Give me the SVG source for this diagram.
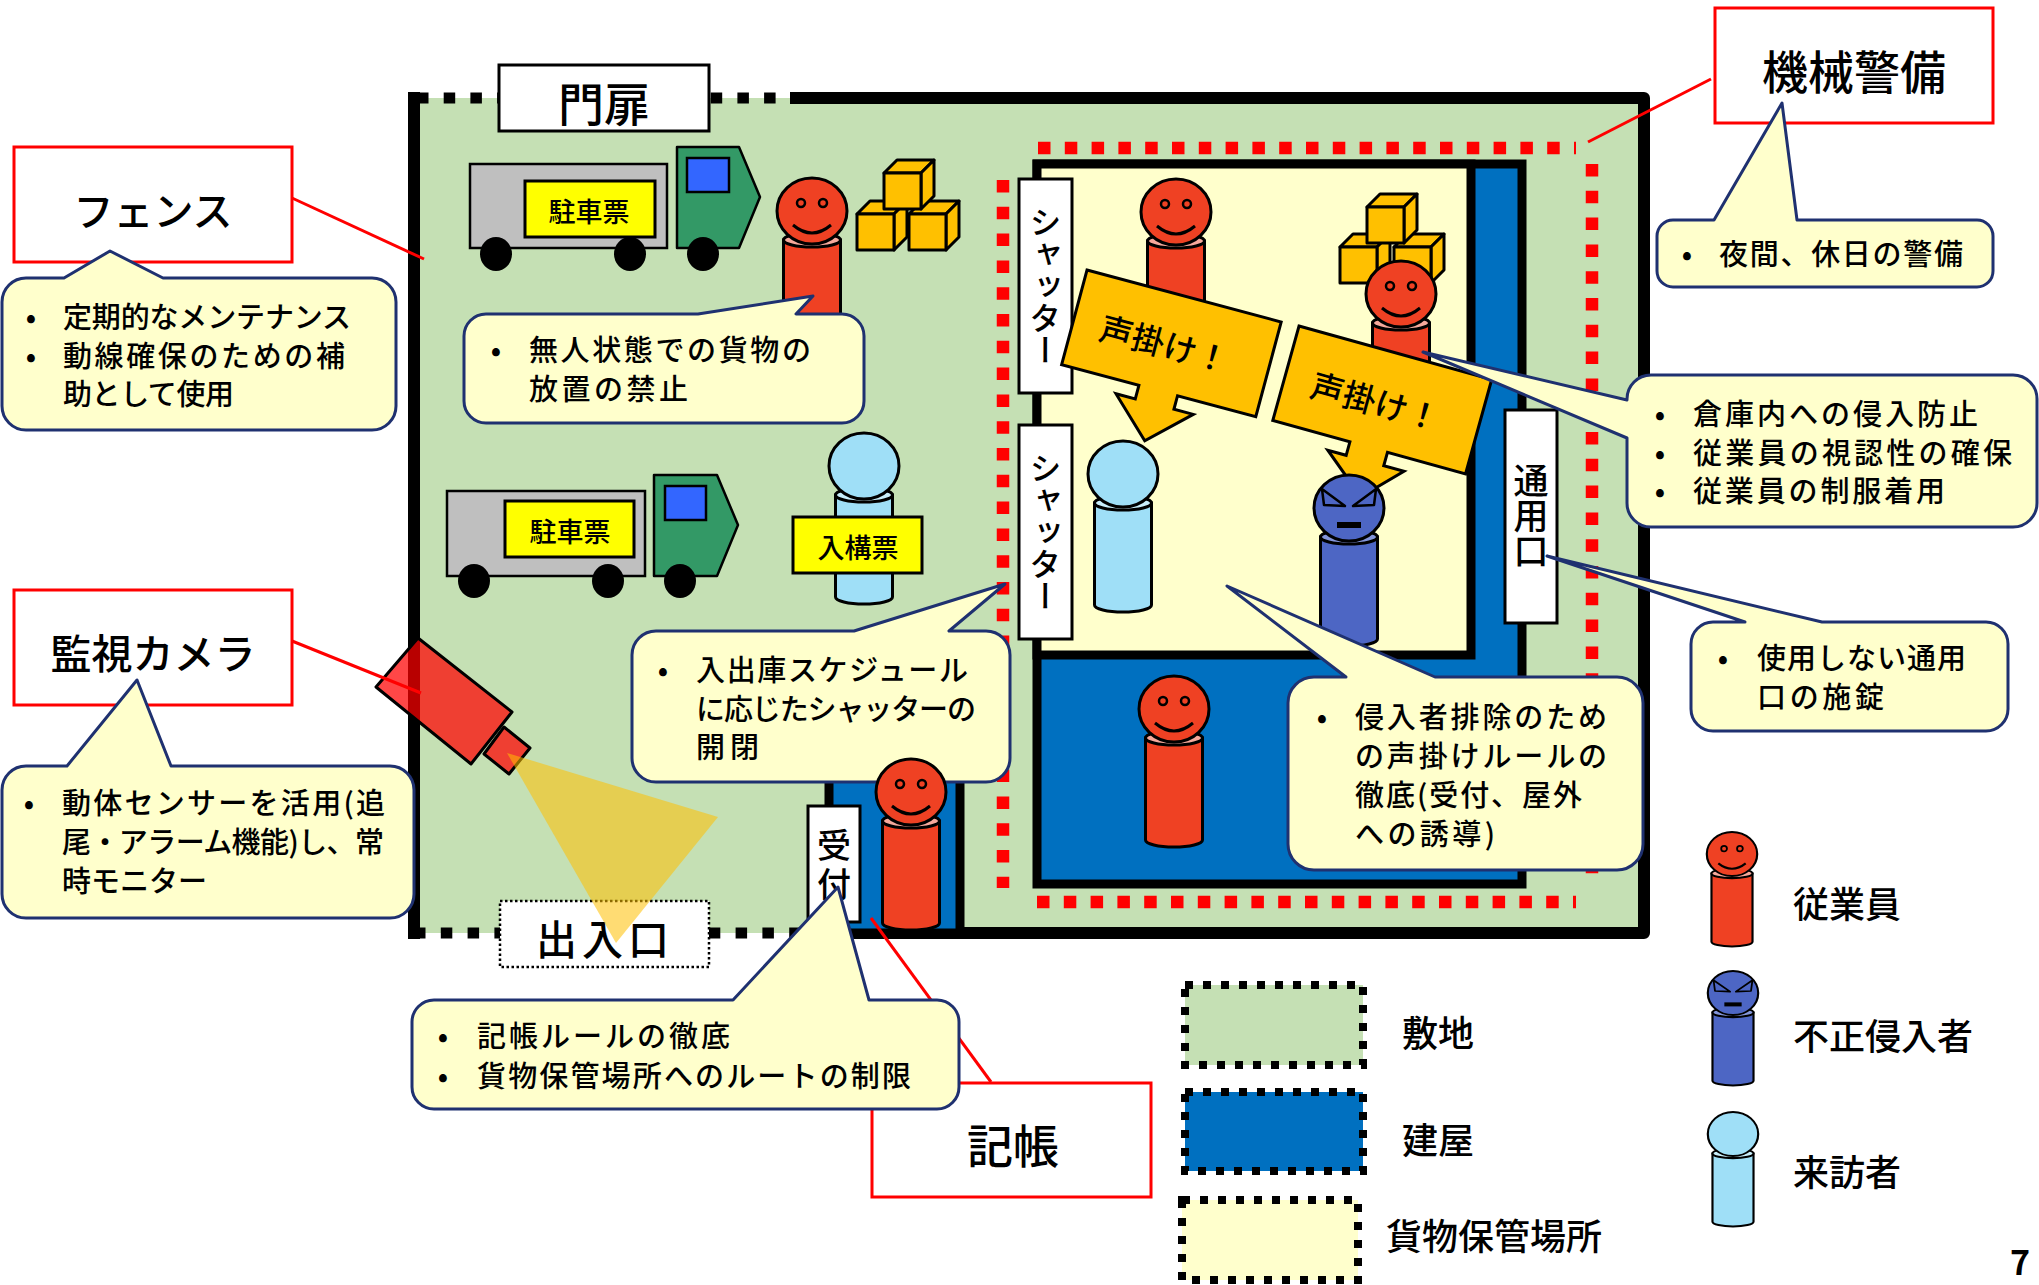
<svg xmlns="http://www.w3.org/2000/svg" width="2039" height="1285" viewBox="0 0 2039 1285">
<defs>
<style>
text { font-family: "Noto Sans CJK JP", "Noto Sans", sans-serif; fill: #000; font-weight: 500; }
.lbl { text-anchor: middle; dominant-baseline: central; }
.redbox { fill: #fff; stroke: #FF0000; stroke-width: 3; }
.call { fill: #FFFFCC; stroke: #1F3170; stroke-width: 3; stroke-linejoin: round; }
.ct { font-size: 29px; }
.bul { font-size: 29px; text-anchor: middle; }
.lead { stroke: #FF0000; stroke-width: 3; fill: none; }
.sign { fill: #FFFF00; stroke: #000; stroke-width: 3; }
.cargo { fill: #BFBFBF; stroke: #000; stroke-width: 2.5; }
.cab { fill: #339966; stroke: #000; stroke-width: 2.5; stroke-linejoin: round; }
.win { fill: #3366FF; stroke: #000; stroke-width: 2.5; }
.cube { fill: #FFC000; stroke: #000; stroke-width: 3; stroke-linejoin: round; }
.vbox { fill: #fff; stroke: #000; stroke-width: 3; }
.vt { writing-mode: vertical-rl; text-anchor: middle; }
.banner { fill: #FFC000; stroke: #000; stroke-width: 3; stroke-linejoin: miter; }
.lg { font-size: 36px; dominant-baseline: central; }
.pageno { font-size: 34px; font-weight: bold; }
</style>
<g id="cube">
  <path class="cube" d="M0,0 L13,-13 H50 L37,0 Z"/>
  <path class="cube" d="M37,0 L50,-13 V23 L37,36 Z"/>
  <path class="cube" d="M0,0 H37 V36 H0 Z"/>
</g>
<g id="p-emp">
  <path d="M-28.5,29 V131 A28.5,7 0 0 0 28.5,131 V29 Z" fill="#EF4123" stroke="#000" stroke-width="3"/>
  <ellipse cx="0" cy="29" rx="28.5" ry="7" fill="#F5A89B" stroke="#000" stroke-width="3"/>
  <ellipse cx="0" cy="0" rx="35" ry="33" fill="#EF4123" stroke="#000" stroke-width="3"/>
  <circle cx="-11" cy="-8" r="4" fill="none" stroke="#000" stroke-width="2.5"/>
  <circle cx="11" cy="-8" r="4" fill="none" stroke="#000" stroke-width="2.5"/>
  <path d="M-19,14 Q0,30 19,14" fill="none" stroke="#000" stroke-width="3"/>
</g>
<g id="p-vis">
  <path d="M-28.5,29 V131 A28.5,7 0 0 0 28.5,131 V29 Z" fill="#9FDFF7" stroke="#000" stroke-width="3"/>
  <ellipse cx="0" cy="29" rx="28.5" ry="7" fill="#C8EEFB" stroke="#000" stroke-width="3"/>
  <ellipse cx="0" cy="0" rx="35" ry="33" fill="#9FDFF7" stroke="#000" stroke-width="3"/>
</g>
<g id="p-int">
  <path d="M-28.5,29 V131 A28.5,7 0 0 0 28.5,131 V29 Z" fill="#4D66C4" stroke="#000" stroke-width="3"/>
  <ellipse cx="0" cy="29" rx="28.5" ry="7" fill="#8395DA" stroke="#000" stroke-width="3"/>
  <ellipse cx="0" cy="0" rx="35" ry="33" fill="#4D66C4" stroke="#000" stroke-width="3"/>
  <path d="M-27,-19 L-4,-2 L-25,-3 Z" fill="#4D66C4" stroke="#000" stroke-width="2.5" stroke-linejoin="round"/>
  <path d="M27,-19 L4,-2 L25,-3 Z" fill="#4D66C4" stroke="#000" stroke-width="2.5" stroke-linejoin="round"/>
  <rect x="-12" y="14" width="24" height="6" fill="#000"/>
</g>
</defs>

<rect width="2039" height="1285" fill="#fff"/>

<!-- site (敷地) -->
<g id="site">
  <rect x="414" y="98" width="1230" height="835" fill="#C5E0B4"/>
  <path d="M790,98 H1644 V933 H808" fill="none" stroke="#000" stroke-width="12" stroke-linejoin="round"/>
  <path d="M414,92 V939" fill="none" stroke="#000" stroke-width="12"/>
  <path d="M417,98 H790" fill="none" stroke="#000" stroke-width="11" stroke-dasharray="11.5 15.2"/>
  <path d="M414,933 H808" fill="none" stroke="#000" stroke-width="11" stroke-dasharray="11.5 15.3"/>
</g>

<!-- building (建屋) and cargo storage (貨物保管場所) -->
<g id="building">
  <rect x="1037" y="164" width="485" height="720" fill="#0070C0" stroke="#000" stroke-width="9"/>
</g>
<g id="storage">
  <rect x="1037" y="164" width="434" height="491" fill="#FFFFCC" stroke="#000" stroke-width="9"/>
</g>
<g id="reception-building">
  <rect x="829" y="770" width="131" height="163" fill="#0070C0" stroke="#000" stroke-width="9"/>
</g>

<!-- machine security perimeter -->
<g id="machine-perimeter" fill="none" stroke="#FF0000" stroke-width="12.5" stroke-dasharray="12.5 14.3">
  <path d="M1038,148 H1576"/>
  <path d="M1592,164 V886"/>
  <path d="M1003,180 V888"/>
  <path d="M1037,902 H1576"/>
</g>

<!-- shutters, side door, reception -->
<g id="shutter-1">
  <rect class="vbox" x="1019" y="179" width="53" height="214"/>
  <text class="vt" x="1045.5" y="286" font-size="32">シャッター</text>
</g>
<g id="shutter-2">
  <rect class="vbox" x="1019" y="425" width="53" height="214"/>
  <text class="vt" x="1045.5" y="532" font-size="32">シャッター</text>
</g>
<g id="side-door">
  <rect class="vbox" x="1505" y="410" width="52" height="213"/>
  <text class="vt" x="1531" y="516" font-size="35">通用口</text>
</g>
<g id="reception">
  <rect class="vbox" x="808" y="806" width="52" height="116"/>
  <text class="vt" x="834" y="867" font-size="34" letter-spacing="5">受付</text>
</g>

<!-- trucks -->
<g id="truck-1">
  <rect class="cargo" x="470" y="164" width="197" height="84"/>
  <path class="cab" d="M677,147 H739 L760,197 L739,248 H677 Z"/>
  <rect class="win" x="687" y="158" width="42" height="34"/>
  <ellipse cx="496" cy="254" rx="16" ry="17"/>
  <ellipse cx="630" cy="254" rx="16" ry="17"/>
  <ellipse cx="703" cy="254" rx="16" ry="17"/>
  <rect class="sign" x="525" y="181" width="130" height="56"/>
  <text class="lbl" x="589" y="210" font-size="27">駐車票</text>
</g>
<g id="truck-2">
  <rect class="cargo" x="447" y="491" width="198" height="85"/>
  <path class="cab" d="M654,475 H717 L738,525 L717,576 H654 Z"/>
  <rect class="win" x="665" y="486" width="41" height="34"/>
  <ellipse cx="474" cy="581" rx="16" ry="17"/>
  <ellipse cx="608" cy="581" rx="16" ry="17"/>
  <ellipse cx="680" cy="581" rx="16" ry="17"/>
  <rect class="sign" x="505" y="501" width="129" height="56"/>
  <text class="lbl" x="570" y="530" font-size="27">駐車票</text>
</g>

<!-- cargo boxes -->
<g id="boxes-1">
  <use href="#cube" x="857" y="214"/>
  <use href="#cube" x="909" y="214"/>
  <use href="#cube" x="884" y="173"/>
</g>
<g id="boxes-2">
  <use href="#cube" x="1340" y="247"/>
  <use href="#cube" x="1394" y="247"/>
  <use href="#cube" x="1367" y="207"/>
</g>

<!-- people -->
<g id="employee-yard"><use href="#p-emp" x="812" y="211"/></g>
<g id="employee-storage-1"><use href="#p-emp" x="1176" y="212"/></g>
<g id="employee-storage-2"><use href="#p-emp" x="1401" y="294"/></g>
<g id="employee-building"><use href="#p-emp" x="1174" y="709"/></g>
<g id="visitor-yard">
  <use href="#p-vis" x="864" y="466"/>
  <rect class="sign" x="793" y="517" width="129" height="56"/>
  <text class="lbl" x="858" y="546" font-size="27">入構票</text>
</g>
<g id="visitor-storage"><use href="#p-vis" x="1123" y="474"/></g>

<!-- call-out banners -->
<g id="callout-banner-1" transform="translate(1087,270) rotate(15)">
  <path class="banner" d="M0,0 H201 V98 H120 V112 H140 L100,150 L60,112 H80 V98 H0 Z"/>
  <text class="lbl" x="94" y="50" font-size="33">声掛け！</text>
</g>
<g id="callout-banner-2" transform="translate(1299,326) rotate(15.5)">
  <path class="banner" d="M0,0 H200 V98 H119 V112 H140 L105,148 L61,112 H80 V98 H0 Z"/>
  <text class="lbl" x="94" y="51" font-size="33">声掛け！</text>
</g>
<g id="intruder-storage"><use href="#p-int" x="1349" y="508"/></g>

<!-- gate and entrance -->
<g id="gate">
  <rect x="499" y="65" width="210" height="66" fill="#fff" stroke="#000" stroke-width="3"/>
  <text class="lbl" x="604" y="101" font-size="46">門扉</text>
</g>
<g id="entrance">
  <rect x="500" y="901" width="209" height="66" fill="#fff" stroke="#000" stroke-width="2.5" stroke-dasharray="2.5 2.5"/>
  <text class="lbl" x="605" y="937" font-size="41" letter-spacing="5">出入口</text>
</g>

<!-- surveillance camera -->
<g id="camera">
  <path d="M418,638 L512,712 L471,764 L376,687 Z" fill="#FF0000" fill-opacity="0.72" stroke="#000" stroke-width="3" stroke-linejoin="round"/>
  <path d="M504,727 L530,748 L509,774 L484,754 Z" fill="#FF0000" fill-opacity="0.72" stroke="#000" stroke-width="3" stroke-linejoin="round"/>
  <path d="M507,753 L718,817 L616,943 Z" fill="#FFC000" fill-opacity="0.55"/>
</g>

<!-- red label boxes -->
<g id="label-fence">
  <rect class="redbox" x="14" y="147" width="278" height="115"/>
  <text class="lbl" x="153" y="209" font-size="40">フェンス</text>
</g>
<g id="label-camera">
  <rect class="redbox" x="14" y="590" width="278" height="115"/>
  <text class="lbl" x="153" y="651" font-size="41">監視カメラ</text>
</g>
<g id="label-machine">
  <rect class="redbox" x="1715" y="8" width="278" height="115"/>
  <text class="lbl" x="1854" y="69" font-size="46">機械警備</text>
</g>
<g id="label-register">
  <rect class="redbox" x="872" y="1083" width="279" height="114"/>
  <text class="lbl" x="1013" y="1143" font-size="46">記帳</text>
</g>

<!-- leader lines -->
<g id="connectors">
  <path class="lead" d="M292,198 L424,259"/>
  <path class="lead" d="M292,641 L421,693"/>
  <path class="lead" d="M1711,79 L1588,142"/>
  <path class="lead" d="M871,918 L991,1082"/>
</g>

<!-- speech bubbles -->
<g id="note-fence">
  <path class="call" d="M26,278 H64 L110,251 L163,278 H372 A24,24 0 0 1 396,302 V406 A24,24 0 0 1 372,430 H26 A24,24 0 0 1 2,406 V302 A24,24 0 0 1 26,278 Z"/>
  <text class="bul" x="31" y="328">•</text>
  <text class="bul" x="31" y="366.5">•</text>
  <text class="ct" x="63" y="328" textLength="288" lengthAdjust="spacing">定期的なメンテナンス</text>
  <text class="ct" x="63" y="366.5" textLength="282" lengthAdjust="spacing">動線確保のための補</text>
  <text class="ct" x="63" y="405" textLength="171" lengthAdjust="spacing">助として使用</text>
</g>
<g id="note-camera">
  <path class="call" d="M26,766 H67 L137,680 L171,766 H390 A24,24 0 0 1 414,790 V894 A24,24 0 0 1 390,918 H26 A24,24 0 0 1 2,894 V790 A24,24 0 0 1 26,766 Z"/>
  <text class="bul" x="29" y="814">•</text>
  <text class="ct" x="62" y="814" textLength="323" lengthAdjust="spacing">動体センサーを活用(追</text>
  <text class="ct" x="62" y="853" textLength="322" lengthAdjust="spacing">尾・アラーム機能)し、常</text>
  <text class="ct" x="62" y="892" textLength="145" lengthAdjust="spacing">時モニター</text>
</g>
<g id="note-unattended">
  <path class="call" d="M486,314 H698 L813,296 L796,314 H842 A22,22 0 0 1 864,336 V401 A22,22 0 0 1 842,423 H486 A22,22 0 0 1 464,401 V336 A22,22 0 0 1 486,314 Z"/>
  <text class="bul" x="496" y="361">•</text>
  <text class="ct" x="529" y="361" textLength="282" lengthAdjust="spacing">無人状態での貨物の</text>
  <text class="ct" x="529" y="400" textLength="159" lengthAdjust="spacing">放置の禁止</text>
</g>
<g id="note-shutter">
  <path class="call" d="M656,631 H854 L1005,584 L949,631 H986 A24,24 0 0 1 1010,655 V758 A24,24 0 0 1 986,782 H656 A24,24 0 0 1 632,758 V655 A24,24 0 0 1 656,631 Z"/>
  <text class="bul" x="663" y="681">•</text>
  <text class="ct" x="696" y="681" textLength="272" lengthAdjust="spacing">入出庫スケジュール</text>
  <text class="ct" x="696" y="719.5" textLength="280" lengthAdjust="spacing">に応じたシャッターの</text>
  <text class="ct" x="696" y="758" textLength="63" lengthAdjust="spacing">開閉</text>
</g>

<!-- receptionist stands in front of the shutter note -->
<g id="employee-reception"><use href="#p-emp" x="911" y="792"/></g>

<g id="note-register">
  <path class="call" d="M434,1000 H733 L838,887 L869,1000 H937 A22,22 0 0 1 959,1022 V1087 A22,22 0 0 1 937,1109 H434 A22,22 0 0 1 412,1087 V1022 A22,22 0 0 1 434,1000 Z"/>
  <text class="bul" x="443" y="1047">•</text>
  <text class="bul" x="443" y="1086.5">•</text>
  <text class="ct" x="477" y="1047" textLength="253" lengthAdjust="spacing">記帳ルールの徹底</text>
  <text class="ct" x="477" y="1086.5" textLength="434" lengthAdjust="spacing">貨物保管場所へのルートの制限</text>
</g>
<g id="note-machine">
  <path class="call" d="M1673,220 H1714 L1782,103 L1797,220 H1977 A16,16 0 0 1 1993,236 V271 A16,16 0 0 1 1977,287 H1673 A16,16 0 0 1 1657,271 V236 A16,16 0 0 1 1673,220 Z"/>
  <text class="bul" x="1687" y="265">•</text>
  <text class="ct" x="1719" y="265" textLength="244" lengthAdjust="spacing">夜間、休日の警備</text>
</g>
<g id="note-storage">
  <path class="call" d="M1651,375 H2013 A24,24 0 0 1 2037,399 V503 A24,24 0 0 1 2013,527 H1651 A24,24 0 0 1 1627,503 V438 L1423,352 L1627,400 V399 A24,24 0 0 1 1651,375 Z"/>
  <text class="bul" x="1660" y="425">•</text>
  <text class="bul" x="1660" y="463.5">•</text>
  <text class="bul" x="1660" y="502">•</text>
  <text class="ct" x="1693" y="425" textLength="285" lengthAdjust="spacing">倉庫内への侵入防止</text>
  <text class="ct" x="1693" y="463.5" textLength="319" lengthAdjust="spacing">従業員の視認性の確保</text>
  <text class="ct" x="1693" y="502" textLength="252" lengthAdjust="spacing">従業員の制服着用</text>
</g>
<g id="note-side-door">
  <path class="call" d="M1713,622 H1745 L1547,556 L1822,622 H1986 A22,22 0 0 1 2008,644 V709 A22,22 0 0 1 1986,731 H1713 A22,22 0 0 1 1691,709 V644 A22,22 0 0 1 1713,622 Z"/>
  <text class="bul" x="1723" y="669">•</text>
  <text class="ct" x="1757" y="669" textLength="209" lengthAdjust="spacing">使用しない通用</text>
  <text class="ct" x="1757" y="708" textLength="127" lengthAdjust="spacing">口の施錠</text>
</g>
<g id="note-intruder">
  <path class="call" d="M1314,677 H1346 L1227,586 L1435,677 H1617 A26,26 0 0 1 1643,703 V844 A26,26 0 0 1 1617,870 H1314 A26,26 0 0 1 1288,844 V703 A26,26 0 0 1 1314,677 Z"/>
  <text class="bul" x="1322" y="727.5">•</text>
  <text class="ct" x="1355" y="727.5" textLength="252" lengthAdjust="spacing">侵入者排除のため</text>
  <text class="ct" x="1355" y="766.5" textLength="252" lengthAdjust="spacing">の声掛けルールの</text>
  <text class="ct" x="1355" y="805.5" textLength="227" lengthAdjust="spacing">徹底(受付、屋外</text>
  <text class="ct" x="1355" y="844.5" textLength="140" lengthAdjust="spacing">への誘導)</text>
</g>

<!-- legend -->
<g id="legend">
  <g id="legend-site">
    <rect x="1185" y="985" width="178" height="80" fill="#C5E0B4" stroke="#000" stroke-width="8" stroke-dasharray="8 10"/>
    <text class="lg" x="1402" y="1031">敷地</text>
  </g>
  <g id="legend-building">
    <rect x="1185" y="1092" width="178" height="79" fill="#0070C0" stroke="#000" stroke-width="8" stroke-dasharray="8 10"/>
    <text class="lg" x="1402" y="1138">建屋</text>
  </g>
  <g id="legend-storage">
    <rect x="1182" y="1200" width="176" height="80" fill="#FFFFCC" stroke="#000" stroke-width="8" stroke-dasharray="8 10"/>
    <text class="lg" x="1386" y="1234">貨物保管場所</text>
  </g>
  <g id="legend-employee">
    <use href="#p-emp" transform="translate(1732,854) scale(0.72,0.67)"/>
    <text class="lg" x="1793" y="902">従業員</text>
  </g>
  <g id="legend-intruder">
    <use href="#p-int" transform="translate(1733,993) scale(0.72,0.67)"/>
    <text class="lg" x="1793" y="1034">不正侵入者</text>
  </g>
  <g id="legend-visitor">
    <use href="#p-vis" transform="translate(1733,1134) scale(0.72,0.67)"/>
    <text class="lg" x="1793" y="1170">来訪者</text>
  </g>
</g>

<text class="pageno" x="2010" y="1275">7</text>
</svg>
